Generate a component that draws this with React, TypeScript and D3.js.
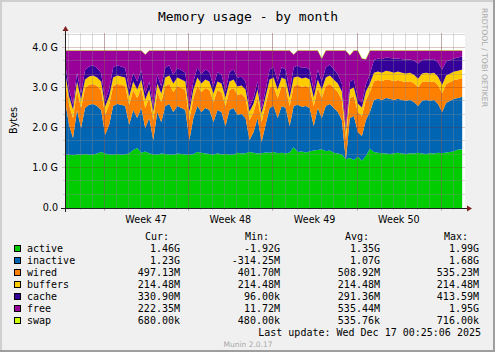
import React, { useRef, useEffect } from "react";
import * as d3 from "d3";

const WIDTH = 495;
const HEIGHT = 352;

// one sample every 8 hours, values in G (1024^3 bytes)
const domainStart = "2025-11-13T18:16:00Z";
const domainEnd = "2025-12-16T23:53:00Z";
const sampleHours = 8;

const seriesNames = ["active", "inactive", "wired", "buffers", "cache", "free", "swap"];
const seriesColors = ["#00CC00", "#0066B3", "#FF8000", "#FFCC00", "#330099", "#990099", "#CCFF00"];

const active = [
  1.33, 1.33, 1.32, 1.34, 1.33, 1.35, 1.33, 1.34, 1.36, 1.4,
  1.36, 1.34, 1.33, 1.35, 1.33, 1.34, 1.37, 1.45, 1.5, 1.38,
  1.41, 1.37, 1.34, 1.33, 1.36, 1.35, 1.34, 1.33, 1.36, 1.35,
  1.34, 1.33, 1.35, 1.4, 1.38, 1.36, 1.35, 1.33, 1.37, 1.34,
  1.35, 1.33, 1.34, 1.38, 1.36, 1.37, 1.4, 1.38, 1.36, 1.37,
  1.39, 1.38, 1.4, 1.37, 1.38, 1.36, 1.39, 1.52, 1.4, 1.41,
  1.39, 1.41, 1.44, 1.45, 1.47, 1.42, 1.44, 1.38, 1.36, 1.34,
  1.22, 1.25, 1.2, 1.28, 1.18, 1.3, 1.48, 1.4, 1.38, 1.37,
  1.36, 1.35, 1.37, 1.38, 1.36, 1.35, 1.37, 1.36, 1.38, 1.36,
  1.35, 1.37, 1.36, 1.38, 1.37, 1.39, 1.4, 1.42, 1.46, 1.46,
];

const inactive = [
  1.37, 0.75, 0.43, 1.11, 0.67, 1.15, 1.25, 1.26, 1.19, 1.05,
  0.47, 0.74, 1.22, 1.25, 1.25, 1.21, 0.71, 1.0, 0.75, 1.12,
  0.59, 0.88, 0.36, 1.07, 0.79, 1.2, 1.26, 1.07, 1.19, 1.15,
  1.11, 0.37, 0.9, 1.15, 1.02, 1.14, 1.1, 0.82, 1.08, 1.06,
  0.7, 1.12, 1.16, 0.95, 0.99, 0.88, 0.3, 0.52, 0.89, 0.28,
  0.69, 1.12, 1.15, 0.88, 1.17, 1.14, 0.66, 1.03, 1.18, 1.12,
  1.16, 1.09, 0.61, 1.05, 0.78, 1.13, 1.16, 1.12, 1.04, 0.86,
  -0.02, 1.0, 1.1, 0.62, 0.62, 0.9, 0.92, 1.3, 1.35, 1.33,
  1.39, 1.38, 1.33, 1.35, 1.34, 1.33, 1.33, 1.29, 1.17, 1.32,
  1.35, 1.31, 1.34, 1.22, 1.03, 1.24, 1.28, 1.31, 1.29, 1.32,
];

const wired = [
  0.5, 0.5, 0.5, 0.5, 0.5, 0.5, 0.5, 0.5, 0.5, 0.5,
  0.5, 0.5, 0.5, 0.5, 0.5, 0.5, 0.5, 0.5, 0.5, 0.5,
  0.5, 0.5, 0.5, 0.5, 0.5, 0.5, 0.5, 0.5, 0.5, 0.5,
  0.5, 0.5, 0.5, 0.5, 0.5, 0.5, 0.5, 0.5, 0.5, 0.5,
  0.5, 0.5, 0.5, 0.5, 0.5, 0.5, 0.5, 0.5, 0.5, 0.5,
  0.5, 0.5, 0.5, 0.5, 0.5, 0.5, 0.5, 0.5, 0.5, 0.5,
  0.5, 0.5, 0.5, 0.5, 0.5, 0.5, 0.5, 0.5, 0.5, 0.5,
  0.5, 0.5, 0.5, 0.5, 0.5, 0.5, 0.5, 0.47, 0.47, 0.47,
  0.47, 0.47, 0.47, 0.47, 0.47, 0.47, 0.47, 0.47, 0.47, 0.47,
  0.47, 0.47, 0.47, 0.47, 0.47, 0.47, 0.47, 0.47, 0.47, 0.47,
];

const buffers = [
  0.21, 0.21, 0.21, 0.21, 0.21, 0.21, 0.21, 0.21, 0.21, 0.21,
  0.21, 0.21, 0.21, 0.21, 0.21, 0.21, 0.21, 0.21, 0.21, 0.21,
  0.21, 0.21, 0.21, 0.21, 0.21, 0.21, 0.21, 0.21, 0.21, 0.21,
  0.21, 0.21, 0.21, 0.21, 0.21, 0.21, 0.21, 0.21, 0.21, 0.21,
  0.21, 0.21, 0.21, 0.21, 0.21, 0.21, 0.21, 0.21, 0.21, 0.21,
  0.21, 0.21, 0.21, 0.21, 0.21, 0.21, 0.21, 0.21, 0.21, 0.21,
  0.21, 0.21, 0.21, 0.21, 0.21, 0.21, 0.21, 0.21, 0.21, 0.21,
  0.21, 0.21, 0.21, 0.21, 0.21, 0.21, 0.21, 0.21, 0.21, 0.21,
  0.21, 0.21, 0.21, 0.21, 0.21, 0.21, 0.21, 0.21, 0.21, 0.21,
  0.21, 0.21, 0.21, 0.21, 0.21, 0.21, 0.21, 0.21, 0.21, 0.21,
];

const cache = [
  0.22, 0.18, 0.12, 0.22, 0.15, 0.24, 0.25, 0.26, 0.24, 0.22,
  0.14, 0.18, 0.25, 0.26, 0.25, 0.24, 0.18, 0.22, 0.2, 0.24,
  0.16, 0.2, 0.12, 0.22, 0.18, 0.25, 0.26, 0.22, 0.24, 0.24,
  0.22, 0.12, 0.2, 0.25, 0.24, 0.25, 0.24, 0.18, 0.24, 0.23,
  0.16, 0.24, 0.25, 0.22, 0.22, 0.2, 0.12, 0.14, 0.2, 0.1,
  0.16, 0.25, 0.26, 0.2, 0.26, 0.25, 0.16, 0.26, 0.27, 0.26,
  0.26, 0.25, 0.16, 0.25, 0.2, 0.26, 0.28, 0.26, 0.24, 0.2,
  0.08, 0.2, 0.2, 0.14, 0.12, 0.18, 0.24, 0.32, 0.33, 0.34,
  0.33, 0.34, 0.36, 0.33, 0.34, 0.35, 0.33, 0.36, 0.38, 0.34,
  0.33, 0.35, 0.34, 0.36, 0.38, 0.35, 0.34, 0.33, 0.33, 0.33,
];

const free = [
  0.31, 0.97, 1.36, 0.56, 1.08, 0.49, 0.4, 0.37, 0.44, 0.56,
  1.26, 0.97, 0.43, 0.37, 0.4, 0.44, 0.97, 0.56, 0.78, 0.49,
  0.97, 0.78, 1.41, 0.61, 0.9, 0.43, 0.37, 0.61, 0.44, 0.49,
  0.56, 1.41, 0.78, 0.43, 0.59, 0.48, 0.54, 0.9, 0.54, 0.6,
  1.02, 0.54, 0.48, 0.68, 0.66, 0.78, 1.41, 1.19, 0.78, 1.48,
  0.99, 0.48, 0.42, 0.78, 0.42, 0.48, 1.02, 0.32, 0.38, 0.44,
  0.42, 0.48, 1.02, 0.48, 0.58, 0.42, 0.35, 0.47, 0.59, 0.83,
  1.95, 0.66, 0.73, 1.19, 1.11, 0.63, 0.59, 0.24, 0.2, 0.22,
  0.18, 0.19, 0.2, 0.2, 0.22, 0.23, 0.23, 0.25, 0.33, 0.24,
  0.23, 0.23, 0.22, 0.3, 0.48, 0.28, 0.24, 0.2, 0.18, 0.15,
];

const swap = [
  0.0006, 0.0006, 0.0006, 0.0006, 0.0006, 0.0006, 0.0006, 0.0006, 0.0006, 0.0006,
  0.0006, 0.0006, 0.0006, 0.0006, 0.0006, 0.0006, 0.0006, 0.0006, 0.0006, 0.0006,
  0.0005, 0.0005, 0.0005, 0.0005, 0.0005, 0.0005, 0.0005, 0.0005, 0.0005, 0.0005,
  0.0005, 0.0005, 0.0005, 0.0005, 0.0005, 0.0005, 0.0005, 0.0005, 0.0005, 0.0005,
  0.0005, 0.0005, 0.0005, 0.0005, 0.0005, 0.0005, 0.0005, 0.0005, 0.0005, 0.0005,
  0.0005, 0.0005, 0.0005, 0.0005, 0.0005, 0.0005, 0.0005, 0.0005, 0.0005, 0.0005,
  0.0005, 0.0005, 0.0005, 0.0005, 0.0005, 0.0005, 0.0005, 0.0005, 0.0005, 0.0005,
  0.0006, 0.0006, 0.0006, 0.0006, 0.0006, 0.0006, 0.0006, 0.0006, 0.0006, 0.0006,
  0.0006, 0.0006, 0.0006, 0.0006, 0.0006, 0.0006, 0.0006, 0.0006, 0.0006, 0.0006,
  0.0006, 0.0006, 0.0006, 0.0006, 0.0006, 0.0006, 0.0006, 0.0006, 0.0006, 0.0006,
];

const yTickValues = [0, 1, 2, 3, 4];
const yTickLabels = ["0.0", "1.0 G", "2.0 G", "3.0 G", "4.0 G"];
const weekStarts = ["2025-11-17", "2025-11-24", "2025-12-01", "2025-12-08"];
const weekLabels = ["Week 47", "Week 48", "Week 49", "Week 50"];

const curValues = ["1.46G", "1.23G", "497.13M", "214.48M", "330.90M", "222.35M", "680.00k"];
const minValues = ["-1.92G", "-314.25M", "401.70M", "214.48M", "96.00k", "11.72M", "480.00k"];
const avgValues = ["1.35G", "1.07G", "508.92M", "214.48M", "291.36M", "535.44M", "535.76k"];
const maxValues = ["1.99G", "1.68G", "535.23M", "214.48M", "413.59M", "1.95G", "716.00k"];

const MONO = "'DejaVu Sans Mono', monospace";
const SANS = "'DejaVu Sans', sans-serif";

const MemoryChart = () => {
  const svgRef = useRef(null);

  useEffect(() => {
    const svg = d3.select(svgRef.current);
    svg.selectAll("*").remove();

    const left = 65;
    const top = 33;
    const plotW = 400;
    const plotH = 175;
    const bottom = top + plotH;

    const start = new Date(domainStart);
    const end = new Date(domainEnd);

    const x = d3.scaleUtc().domain([start, end]).range([left, left + plotW]);
    const y = d3.scaleLinear().domain([0, 4.375]).range([bottom, top]);

    const columns = { active, inactive, wired, buffers, cache, free, swap };
    const rows = active.map((_, i) => {
      const row = { time: new Date(start.getTime() + i * sampleHours * 3600e3) };
      seriesNames.forEach((n) => (row[n] = columns[n][i]));
      return row;
    });

    const stacked = d3.stack().keys(seriesNames)(rows);

    // background + 3d frame
    svg.append("rect").attr("width", WIDTH).attr("height", HEIGHT).attr("fill", "#F0F0F0");
    svg.append("rect").attr("x", 0).attr("y", 0).attr("width", WIDTH).attr("height", 2).attr("fill", "#CFCFCF");
    svg.append("rect").attr("x", 0).attr("y", 0).attr("width", 2).attr("height", HEIGHT).attr("fill", "#CFCFCF");
    svg.append("rect").attr("x", 0).attr("y", HEIGHT - 2).attr("width", WIDTH).attr("height", 2).attr("fill", "#9E9E9E");
    svg.append("rect").attr("x", WIDTH - 2).attr("y", 0).attr("width", 2).attr("height", HEIGHT).attr("fill", "#9E9E9E");

    // canvas
    svg.append("rect").attr("x", left).attr("y", top).attr("width", plotW).attr("height", plotH).attr("fill", "#FFFFFF");

    const area = d3
      .area()
      .x((d) => x(d.data.time))
      .y0((d) => y(d[0]))
      .y1((d) => y(d[1]));

    svg
      .append("g")
      .selectAll("path")
      .data(stacked)
      .join("path")
      .attr("d", area)
      .attr("fill", (d, i) => seriesColors[i]);

    // swap sits as a thin line on top
    const topLine = d3
      .line()
      .x((d) => x(d.data.time))
      .y((d) => y(d[1]));
    svg
      .append("path")
      .attr("d", topLine(stacked[stacked.length - 1]))
      .attr("fill", "none")
      .attr("stroke", "#CCFF00")
      .attr("stroke-opacity", 0.5)
      .attr("stroke-width", 1);

    const minorColor = "rgba(140,140,140,0.33)";
    const majorColor = "rgba(130,30,30,0.25)";
    const snap = (v) => Math.round(v) + 0.5;

    // vertical grid: days and weeks
    const days = d3.utcDay.range(d3.utcDay.ceil(start), end);
    const mondays = d3.utcMonday.range(d3.utcDay.ceil(start), end);
    const grid = svg.append("g");
    days.forEach((d) => {
      const xx = snap(x(d));
      grid.append("line").attr("x1", xx).attr("x2", xx).attr("y1", top).attr("y2", bottom + 2).attr("stroke", minorColor);
    });
    mondays.forEach((d) => {
      const xx = snap(x(d));
      grid.append("line").attr("x1", xx).attr("x2", xx).attr("y1", top).attr("y2", bottom + 3).attr("stroke", majorColor);
    });

    // horizontal grid: thirds + whole G
    d3.range(1, 14).forEach((k) => {
      if (k % 3 === 0) return;
      const v = k / 3;
      if (v > 4.375) return;
      const yy = snap(y(v) - 1);
      grid.append("line").attr("x1", left - 2).attr("x2", left + plotW).attr("y1", yy).attr("y2", yy).attr("stroke", minorColor);
    });
    yTickValues.forEach((v) => {
      if (v === 0) return;
      const yy = snap(y(v) - 1);
      grid.append("line").attr("x1", left - 3).attr("x2", left + plotW).attr("y1", yy).attr("y2", yy).attr("stroke", majorColor);
    });

    // axes
    svg.append("line").attr("x1", left - 4).attr("x2", left + plotW + 4).attr("y1", bottom + 0.5).attr("y2", bottom + 0.5).attr("stroke", "#1F1F1F");
    svg.append("line").attr("x1", left + 0.5).attr("x2", left + 0.5).attr("y1", bottom + 4).attr("y2", top - 4).attr("stroke", "#1F1F1F");
    svg
      .append("path")
      .attr("d", `M${left + plotW + 2},${bottom - 2.5}L${left + plotW + 7},${bottom + 0.5}L${left + plotW + 2},${bottom + 3.5}Z`)
      .attr("fill", "#7F1F1F");
    svg
      .append("path")
      .attr("d", `M${left - 2.5},${top - 2}L${left + 0.5},${top - 7}L${left + 3.5},${top - 2}Z`)
      .attr("fill", "#7F1F1F");

    // y labels
    yTickValues.forEach((v, i) => {
      svg
        .append("text")
        .attr("x", 58)
        .attr("y", y(v) + 3)
        .attr("text-anchor", "end")
        .attr("font-family", SANS)
        .attr("font-size", "9.6px")
        .attr("fill", "#000")
        .text(yTickLabels[i]);
    });

    // week labels, centred in the week
    weekStarts.forEach((s, i) => {
      const mid = new Date(new Date(s + "T00:00:00Z").getTime() + 3.5 * 86400e3);
      svg
        .append("text")
        .attr("x", x(mid))
        .attr("y", 223)
        .attr("text-anchor", "middle")
        .attr("font-family", SANS)
        .attr("font-size", "9.6px")
        .attr("fill", "#000")
        .text(weekLabels[i]);
    });

    svg
      .append("text")
      .attr("transform", "translate(17,120.5) rotate(-90)")
      .attr("text-anchor", "middle")
      .attr("font-family", SANS)
      .attr("font-size", "9.6px")
      .attr("fill", "#000")
      .text("Bytes");

    svg
      .append("text")
      .attr("x", 248)
      .attr("y", 21)
      .attr("text-anchor", "middle")
      .attr("font-family", MONO)
      .attr("font-size", "13px")
      .attr("fill", "#000")
      .text("Memory usage - by month");

    svg
      .append("text")
      .attr("transform", "translate(481.5,8) rotate(90)")
      .attr("font-family", SANS)
      .attr("font-size", "7.7px")
      .attr("fill", "#AAAAAA")
      .text("RRDTOOL / TOBI OETIKER");

    // legend
    const colEnds = [180, 280, 380, 479];
    const headers = ["Cur:", "Min:", "Avg:", "Max:"];
    const cols = [curValues, minValues, avgValues, maxValues];
    const legend = svg.append("g").attr("font-family", MONO).attr("font-size", "10px").attr("fill", "#000");

    headers.forEach((h, j) => {
      legend.append("text").attr("x", colEnds[j] - 35).attr("y", 240).text(h);
    });

    seriesNames.forEach((name, i) => {
      const base = 252 + i * 12;
      legend
        .append("rect")
        .attr("x", 14.5)
        .attr("y", base - 6.5)
        .attr("width", 6)
        .attr("height", 6)
        .attr("fill", seriesColors[i])
        .attr("stroke", "#000")
        .attr("stroke-width", 1);
      legend.append("text").attr("x", 27).attr("y", base).text(name);
      cols.forEach((vals, j) => {
        legend.append("text").attr("x", colEnds[j]).attr("y", base).attr("text-anchor", "end").text(vals[i]);
      });
    });

    legend
      .append("text")
      .attr("x", 481)
      .attr("y", 336)
      .attr("text-anchor", "end")
      .text("Last update: Wed Dec 17 00:25:06 2025");

    svg
      .append("text")
      .attr("x", 248)
      .attr("y", 347)
      .attr("text-anchor", "middle")
      .attr("font-family", SANS)
      .attr("font-size", "7.5px")
      .attr("fill", "#A8A8A8")
      .text("Munin 2.0.17");
  }, []);

  return (
    <svg
      ref={svgRef}
      width={WIDTH}
      height={HEIGHT}
      style={{ position: "absolute", left: 0, top: 0, display: "block" }}
    />
  );
};

export default function App() {
  return <MemoryChart />;
}
